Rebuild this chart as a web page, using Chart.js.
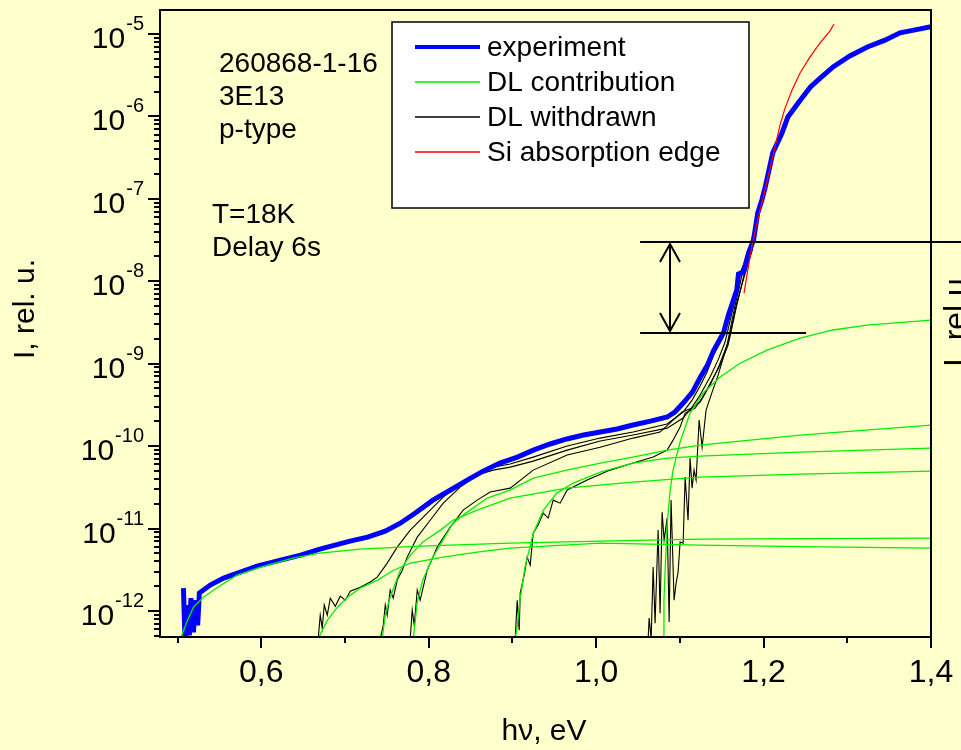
<!DOCTYPE html>
<html>
<head>
<meta charset="utf-8">
<script src="https://cdn.jsdelivr.net/npm/chart.js@4"></script>
<style>
html,body{margin:0;padding:0;background:#FFFFCC;}
#wrap{width:961px;height:750px;position:relative;}
</style>
</head>
<body>
<div id="wrap"><canvas id="c" width="961" height="750"></canvas></div>
<script>
// ---- data: [hv (eV), I (rel. u.)] ----
const experiment = [[0.507,1.89e-12],[0.509,4.0e-13],[0.512,1.18e-12],[0.514,5.06e-13],[0.516,1.43e-12],[0.519,5.5e-13],[0.521,1.35e-12],[0.524,6.7e-13],[0.526,1.65e-12],[0.539,2.06e-12],[0.555,2.50e-12],[0.575,2.96e-12],[0.595,3.50e-12],[0.623,4.13e-12],[0.647,4.76e-12],[0.670,5.63e-12],[0.688,6.29e-12],[0.706,7.02e-12],[0.727,7.86e-12],[0.748,9.3e-12],[0.766,1.16e-11],[0.784,1.54e-11],[0.805,2.21e-11],[0.826,2.93e-11],[0.846,3.87e-11],[0.865,4.97e-11],[0.885,6.22e-11],[0.906,7.35e-11],[0.925,8.93e-11],[0.945,1.06e-10],[0.965,1.22e-10],[0.985,1.36e-10],[1.005,1.48e-10],[1.025,1.61e-10],[1.044,1.80e-10],[1.065,2.01e-10],[1.085,2.25e-10],[1.094,2.59e-10],[1.104,3.33e-10],[1.115,4.52e-10],[1.124,6.68e-10],[1.133,9.6e-10],[1.140,1.42e-9],[1.146,1.83e-9],[1.152,2.35e-9],[1.158,3.89e-9],[1.164,5.91e-9],[1.168,7.84e-9],[1.170,1.22e-8],[1.176,1.29e-8],[1.182,2.20e-8],[1.188,3.16e-8],[1.193,6.72e-8],[1.198,9.67e-8],[1.202,1.39e-7],[1.211,3.60e-7],[1.222,6.29e-7],[1.229,9.8e-7],[1.244,1.58e-6],[1.256,2.27e-6],[1.268,2.93e-6],[1.283,3.98e-6],[1.303,5.40e-6],[1.324,6.95e-6],[1.345,8.4e-6],[1.363,1.03e-5],[1.381,1.12e-5],[1.400,1.22e-5]];

const dl1 = [[0.503,4.5e-13],[0.512,7.74e-13],[0.519,1.11e-12],[0.531,1.47e-12],[0.548,1.94e-12],[0.571,2.72e-12],[0.599,3.40e-12],[0.638,4.38e-12],[0.670,5.02e-12],[0.718,5.63e-12],[0.790,6.12e-12],[0.897,6.64e-12],[1.005,7.02e-12],[1.124,7.44e-12],[1.244,7.54e-12],[1.400,7.63e-12]];
const dl2 = [[0.668,4.6e-13],[0.679,7.74e-13],[0.691,1.11e-12],[0.703,1.47e-12],[0.718,1.89e-12],[0.739,2.37e-12],[0.758,3.12e-12],[0.778,3.80e-12],[0.798,4.13e-12],[0.817,4.50e-12],[0.858,5.17e-12],[0.897,5.78e-12],[1.005,6.64e-12],[1.124,6.29e-12],[1.244,6.04e-12],[1.400,5.78e-12]];
const dl3 = [[0.7445,4.6e-13],[0.748,8.9e-13],[0.754,1.47e-12],[0.766,3.12e-12],[0.778,4.76e-12],[0.793,6.85e-12],[0.814,9.56e-12],[0.829,1.26e-11],[0.858,1.67e-11],[0.897,2.34e-11],[0.965,3.09e-11],[1.044,3.66e-11],[1.124,4.20e-11],[1.244,4.57e-11],[1.400,4.97e-11]];
const dl4 = [[0.7815,4.6e-13],[0.784,7.7e-13],[0.786,1.24e-12],[0.793,2.37e-12],[0.805,4.50e-12],[0.817,7.24e-12],[0.829,1.16e-11],[0.846,1.58e-11],[0.870,2.34e-11],[0.897,2.93e-11],[0.925,4.09e-11],[0.965,5.11e-11],[1.005,6.22e-11],[1.044,7.35e-11],[1.085,8.93e-11],[1.124,1.03e-10],[1.244,1.36e-10],[1.400,1.80e-10]];
const dl5 = [[0.9033,4.6e-13],[0.906,6.72e-13],[0.909,1.35e-12],[0.915,3.40e-12],[0.925,8.78e-12],[0.937,1.67e-11],[0.953,2.69e-11],[0.9725,3.56e-11],[1.005,4.84e-11],[1.044,6.22e-11],[1.085,7.14e-11],[1.124,7.57e-11],[1.244,8.44e-11],[1.400,9.46e-11]];
const dl6 = [[1.080,4.6e-13],[1.081,1.35e-12],[1.0824,3.12e-12],[1.0848,1.10e-11],[1.0884,2.93e-11],[1.0919,5.11e-11],[1.1003,1.12e-10],[1.1122,2.51e-10],[1.1278,4.40e-10],[1.1481,6.87e-10],[1.1719,1.01e-9],[1.2042,1.46e-9],[1.2436,2.04e-9],[1.283,2.56e-9],[1.3236,2.94e-9],[1.400,3.38e-9]];

const wd1 = [[0.668,4.6e-13],[0.6704,8.9e-13],[0.6728,6.2e-13],[0.6752,1.18e-12],[0.6788,8.9e-13],[0.6824,1.43e-12],[0.6884,1.14e-12],[0.6943,1.51e-12],[0.7003,1.35e-12],[0.7063,1.74e-12],[0.7182,1.94e-12],[0.7301,2.24e-12],[0.7385,2.57e-12],[0.7504,3.80e-12],[0.7624,5.95e-12],[0.7779,9.56e-12],[0.7982,1.54e-11],[0.8173,2.40e-11],[0.8376,3.56e-11],[0.8579,4.70e-11],[0.877,5.56e-11],[0.8973,6.05e-11],[0.9248,7.35e-11],[0.9654,1.0e-10],[1.0048,1.25e-10],[1.0442,1.48e-10],[1.0848,1.85e-10],[1.1039,2.59e-10],[1.1146,3.61e-10],[1.1242,5.34e-10],[1.1325,7.9e-10],[1.1397,1.24e-9],[1.1516,2.10e-9],[1.1636,5.44e-9],[1.1719,1.26e-8],[1.1815,2.14e-8],[1.1934,6.53e-8]];
const wd2 = [[0.7421,4.6e-13],[0.7457,6.7e-13],[0.7481,1.18e-12],[0.7504,8.9e-13],[0.754,1.79e-12],[0.7576,1.43e-12],[0.7624,2.37e-12],[0.7684,3.12e-12],[0.7743,4.50e-12],[0.7863,7.86e-12],[0.8018,1.26e-11],[0.8173,2.03e-11],[0.8376,3.18e-11],[0.8579,4.45e-11],[0.877,5.11e-11],[0.8973,5.56e-11],[0.9248,6.57e-11],[0.9654,8.93e-11],[1.0048,1.15e-10],[1.0442,1.36e-10],[1.0848,1.65e-10],[1.1039,2.19e-10],[1.1146,2.97e-10],[1.1242,4.16e-10],[1.1361,6.87e-10],[1.1457,1.11e-9],[1.154,1.83e-9],[1.1636,4.73e-9],[1.1719,1.19e-8],[1.1815,2.02e-8],[1.1934,6.36e-8]];
const wd3 = [[0.7779,4.6e-13],[0.7803,1.02e-12],[0.7827,6.7e-13],[0.7863,1.79e-12],[0.7898,1.35e-12],[0.7982,3.12e-12],[0.8102,5.95e-12],[0.8257,1.04e-11],[0.8412,1.67e-11],[0.8579,2.21e-11],[0.8734,2.77e-11],[0.8973,3.09e-11],[0.9248,5.11e-11],[0.9654,7.78e-11],[1.0048,9.7e-11],[1.0442,1.25e-10],[1.0764,1.48e-10],[1.0919,2.07e-10],[1.1027,2.59e-10],[1.1146,2.89e-10],[1.1242,3.42e-10],[1.1361,5.5e-10],[1.1457,8.83e-10],[1.1564,1.68e-9],[1.166,5.14e-9],[1.1743,1.19e-8],[1.1839,2.26e-8],[1.1934,6.36e-8]];
const wd4 = [[0.9033,4.6e-13],[0.9057,1.35e-12],[0.9081,5.85e-13],[0.9093,1.65e-12],[0.914,2.72e-12],[0.9176,4.50e-12],[0.9212,3.60e-12],[0.9248,8.78e-12],[0.9307,1.10e-11],[0.9367,1.54e-11],[0.9427,1.34e-11],[0.9487,2.21e-11],[0.957,2.03e-11],[0.9654,2.93e-11],[0.9893,3.87e-11],[1.0167,5.11e-11],[1.0442,6.22e-11],[1.0681,7.35e-11],[1.0848,8.93e-11],[1.0919,1.18e-10],[1.1003,1.70e-10],[1.1063,2.51e-10],[1.1182,2.89e-10],[1.1266,3.82e-10],[1.1385,6.32e-10],[1.1481,9.6e-10],[1.1576,1.68e-9],[1.1672,4.73e-9],[1.1767,1.19e-8],[1.1863,2.39e-8],[1.1934,6.2e-8]];
const wd5 = [[1.0621,4.6e-13],[1.0633,8.2e-13],[1.0657,4.6e-13],[1.0681,3.40e-12],[1.0704,7.1e-13],[1.074,9.56e-12],[1.0764,9.4e-13],[1.0788,1.58e-11],[1.0812,7.24e-12],[1.0848,1.34e-11],[1.0872,7.34e-13],[1.0895,2.21e-11],[1.0931,1.35e-12],[1.0955,2.17e-12],[1.0979,2.96e-12],[1.1003,6.85e-12],[1.1039,6.64e-12],[1.1063,4.20e-11],[1.1098,1.26e-11],[1.1122,7.14e-11],[1.1146,3.09e-11],[1.117,5.11e-11],[1.1194,3.87e-11],[1.123,2.07e-10],[1.1266,9.7e-11],[1.1313,2.73e-10],[1.1385,4.52e-10],[1.1457,7.26e-10],[1.1528,1.27e-9],[1.16,2.22e-9],[1.1672,5.14e-9],[1.1767,1.12e-8],[1.1863,2.39e-8],[1.1934,6.2e-8]];

const siEdge = [[1.1767,7.2e-9],[1.1815,1.44e-8],[1.1863,2.75e-8],[1.191,4.43e-8],[1.1958,7.3e-8],[1.2018,1.28e-7],[1.2078,2.37e-7],[1.2137,4.26e-7],[1.2197,7.87e-7],[1.2257,1.26e-6],[1.234,2.09e-6],[1.2436,3.36e-6],[1.2555,5.26e-6],[1.2675,7.78e-6],[1.2794,1.09e-5],[1.2842,1.32e-5]];

// ---- axes / ticks / labels ----
const xRange = [0.479, 1.4];
const yRange = [4.83e-13, 1.95e-5];
const xMajorTicks = [0.6, 0.8, 1.0, 1.2, 1.4];
const xMajorLabels = ['0,6', '0,8', '1,0', '1,2', '1,4'];
const xMinorTicks = [0.5, 0.7, 0.9, 1.1, 1.3];
const yMajorTicks = [1e-12, 1e-11, 1e-10, 1e-9, 1e-8, 1e-7, 1e-6, 1e-5];
const yMajorExp = ['-12', '-11', '-10', '-9', '-8', '-7', '-6', '-5'];
const seriesNames = ['experiment', 'DL contribution', 'DL withdrawn', 'Si absorption edge'];
const seriesColors = ['#0000FF', '#00EE00', '#000000', '#FF0000'];
const noteLines = [['260868-1-16', '3E13', 'p-type'], ['T=18K', 'Delay 6s']];
// arrow annotation (data coordinates)
const levelHigh = 3.0e-8, levelLow = 2.35e-9;
const levelStartX = 1.0525, levelLowEndX = 1.2508, arrowX = 1.0884;

const FONT = '"Liberation Sans", Arial, Helvetica, sans-serif';

function ds(name, pts, color, width) {
  return { label: name, data: pts.map(p => ({ x: p[0], y: p[1] })), borderColor: color,
           backgroundColor: color, borderWidth: width, pointRadius: 0, fill: false, tension: 0 };
}

// drawn order: first dataset on top
const datasets = [
  ds(seriesNames[1], dl1, seriesColors[1], 1.3),
  ds(seriesNames[1], dl2, seriesColors[1], 1.3),
  ds(seriesNames[1], dl3, seriesColors[1], 1.3),
  ds(seriesNames[1], dl4, seriesColors[1], 1.3),
  ds(seriesNames[1], dl5, seriesColors[1], 1.3),
  ds(seriesNames[1], dl6, seriesColors[1], 1.3),
  ds(seriesNames[3], siEdge, seriesColors[3], 1.2),
  ds(seriesNames[0], experiment, seriesColors[0], 5),
  ds(seriesNames[2], wd1, seriesColors[2], 1.1),
  ds(seriesNames[2], wd2, seriesColors[2], 1.1),
  ds(seriesNames[2], wd3, seriesColors[2], 1.1),
  ds(seriesNames[2], wd4, seriesColors[2], 1.1),
  ds(seriesNames[2], wd5, seriesColors[2], 1.1)
];

const bgPlugin = {
  id: 'bg',
  beforeDraw(chart) {
    const c = chart.ctx; c.save(); c.fillStyle = '#FFFFCC';
    c.fillRect(0, 0, chart.width, chart.height); c.restore();
  }
};

const decorPlugin = {
  id: 'decor',
  afterDraw(chart) {
    const ctx = chart.ctx, xs = chart.scales.x, ys = chart.scales.y, a = chart.chartArea;
    ctx.save();
    ctx.strokeStyle = '#000'; ctx.fillStyle = '#000'; ctx.lineWidth = 2; ctx.lineCap = 'butt';
    // frame
    ctx.strokeRect(a.left, a.top, a.right - a.left, a.bottom - a.top);
    // x ticks
    ctx.beginPath();
    xMajorTicks.forEach(v => { const px = Math.round(xs.getPixelForValue(v)); ctx.moveTo(px, a.bottom); ctx.lineTo(px, a.bottom + 11); });
    xMinorTicks.forEach(v => { const px = Math.round(xs.getPixelForValue(v)); ctx.moveTo(px, a.bottom); ctx.lineTo(px, a.bottom + 6); });
    // y ticks
    yMajorTicks.forEach(v => { const py = Math.round(ys.getPixelForValue(v)); ctx.moveTo(a.left, py); ctx.lineTo(a.left - 12, py); });
    for (let d = 1e-13; d < 1e-4; d *= 10) {
      for (let m = 2; m <= 9; m++) {
        const v = m * d;
        if (v < yRange[0] || v > yRange[1]) continue;
        const py = Math.round(ys.getPixelForValue(v));
        ctx.moveTo(a.left, py); ctx.lineTo(a.left - 6, py);
      }
    }
    ctx.stroke();
    // x tick labels
    ctx.font = '32px ' + FONT; ctx.textAlign = 'center'; ctx.textBaseline = 'alphabetic';
    xMajorTicks.forEach((v, i) => ctx.fillText(xMajorLabels[i], xs.getPixelForValue(v), a.bottom + 45));
    // y tick labels 10^n
    yMajorTicks.forEach((v, i) => {
      const py = ys.getPixelForValue(v);
      ctx.font = '20px ' + FONT; ctx.textAlign = 'right';
      const supW = ctx.measureText(yMajorExp[i]).width;
      const right = a.left - 16;
      ctx.fillText(yMajorExp[i], right, py - 4);
      ctx.font = '30px ' + FONT;
      ctx.fillText('10', right - supW - 1, py + 14);
    });
    // axis titles
    ctx.font = '30px ' + FONT; ctx.textAlign = 'center';
    ctx.fillText('h\u03BD, eV', 544, 740);
    ctx.save(); ctx.translate(34, 309); ctx.rotate(-Math.PI / 2);
    ctx.fillText('I, rel. u.', 0, 0); ctx.restore();
    ctx.save(); ctx.translate(966, 367); ctx.rotate(-Math.PI / 2);
    ctx.textAlign = 'left'; ctx.font = '32px ' + FONT;
    ctx.fillText('I, rel.u.', 0, 0); ctx.restore();
    // notes
    ctx.font = '28px ' + FONT; ctx.textAlign = 'left';
    noteLines[0].forEach((t, i) => ctx.fillText(t, 219, 72 + i * 33));
    noteLines[1].forEach((t, i) => ctx.fillText(t, 212, 223 + i * 33));
    // level lines + double arrow
    const yH = Math.round(ys.getPixelForValue(levelHigh)), yL = Math.round(ys.getPixelForValue(levelLow));
    const x0 = xs.getPixelForValue(levelStartX), x1 = xs.getPixelForValue(levelLowEndX), xa = Math.round(xs.getPixelForValue(arrowX));
    ctx.lineWidth = 2;
    ctx.beginPath();
    ctx.moveTo(x0, yH); ctx.lineTo(chart.width, yH);
    ctx.moveTo(x0, yL); ctx.lineTo(x1, yL);
    ctx.moveTo(xa, yH + 2); ctx.lineTo(xa, yL - 2);
    ctx.moveTo(xa - 10, yH + 20); ctx.lineTo(xa, yH + 2); ctx.lineTo(xa + 10, yH + 20);
    ctx.moveTo(xa - 10, yL - 20); ctx.lineTo(xa, yL - 2); ctx.lineTo(xa + 10, yL - 20);
    ctx.stroke();
    // legend
    const L = { x: 392, y: 22, w: 357, h: 186 };
    ctx.fillStyle = '#FFFFFF'; ctx.fillRect(L.x, L.y, L.w, L.h);
    ctx.lineWidth = 1.5; ctx.strokeStyle = '#000'; ctx.strokeRect(L.x, L.y, L.w, L.h);
    ctx.font = '28px ' + FONT; ctx.textBaseline = 'middle'; ctx.fillStyle = '#000';
    seriesNames.forEach((n, i) => {
      const yy = 47 + i * 35;
      ctx.beginPath(); ctx.strokeStyle = seriesColors[i]; ctx.lineWidth = i === 0 ? 4 : 1.3;
      ctx.moveTo(415, yy); ctx.lineTo(480, yy); ctx.stroke();
      ctx.fillText(n, 487, yy + 1);
    });
    ctx.restore();
  }
};

new Chart(document.getElementById('c'), {
  type: 'line',
  data: { datasets },
  options: {
    responsive: false,
    animation: false,
    layout: { padding: { left: 160, right: 30, top: 10, bottom: 113 } },
    plugins: { legend: { display: false }, tooltip: { enabled: false } },
    scales: {
      x: { type: 'linear', min: xRange[0], max: xRange[1], display: false },
      y: { type: 'logarithmic', min: yRange[0], max: yRange[1], display: false }
    },
    elements: { point: { radius: 0 }, line: { tension: 0 } }
  },
  plugins: [bgPlugin, decorPlugin]
});
</script>
</body>
</html>
